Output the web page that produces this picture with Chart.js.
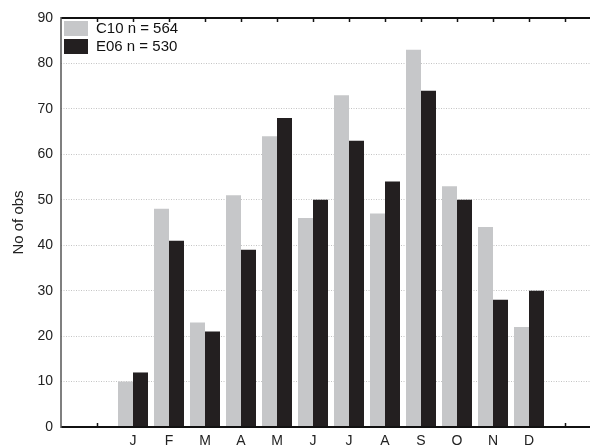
<!DOCTYPE html>
<html>
<head>
<meta charset="utf-8">
<script src="https://cdn.jsdelivr.net/npm/chart.js@4/dist/chart.umd.min.js"></script>
<style>
  html, body { margin: 0; padding: 0; background: #fff; overflow: hidden; }
  #wrap { width: 610px; height: 445px; }
</style>
</head>
<body>
<div id="wrap"><canvas id="c" width="610" height="445"></canvas></div>
<script>
const months = ["J", "F", "M", "A", "M", "J", "J", "A", "S", "O", "N", "D"];
const c10Values = [10, 48, 23, 51, 64, 46, 73, 47, 83, 53, 44, 22];
const e06Values = [12, 41, 21, 39, 68, 50, 63, 54, 74, 50, 28, 30];
const seriesNames = ["C10 n = 564", "E06 n = 530"];
const yTicks = [0, 10, 20, 30, 40, 50, 60, 70, 80, 90];
const yTitle = "No of obs";

// two empty slots on each side of the months
const pad = ["", ""];
const labels = pad.concat(months, pad);
const padData = arr => [null, null].concat(arr, [null, null]);

const FONT = "'Liberation Sans', Arial, Helvetica, sans-serif";
const GRAY = "#c6c7c9";
const DARK = "#231f20";

const frame = {
  id: "frame",
  beforeDatasetsDraw(chart) {
    const {ctx, chartArea: a, scales: {x}} = chart;
    ctx.save();
    ctx.strokeStyle = "#111";
    ctx.lineWidth = 1.5;
    for (let i = 1; i < labels.length; i++) {
      const px = Math.round(x.getPixelForTick(i)) + 0.5;
      ctx.beginPath();
      ctx.moveTo(px, a.top); ctx.lineTo(px, a.top + 4);
      ctx.moveTo(px, a.bottom); ctx.lineTo(px, a.bottom - 4);
      ctx.stroke();
    }
    ctx.restore();
  },
  afterDatasetsDraw(chart) {
    const {ctx, chartArea: a} = chart;
    ctx.save();
    // top border
    ctx.strokeStyle = "#111";
    ctx.lineWidth = 2;
    ctx.beginPath(); ctx.moveTo(a.left, a.top); ctx.lineTo(a.right + 20, a.top); ctx.stroke();
    // bottom axis
    ctx.beginPath(); ctx.moveTo(a.left, a.bottom); ctx.lineTo(a.right + 20, a.bottom); ctx.stroke();
    // left axis
    ctx.strokeStyle = "#555";
    ctx.lineWidth = 1.5;
    ctx.beginPath(); ctx.moveTo(a.left, a.top - 1); ctx.lineTo(a.left, a.bottom + 1); ctx.stroke();
    // legend
    const ds = chart.data.datasets;
    ctx.font = "15px " + FONT;
    ctx.textBaseline = "middle";
    ctx.textAlign = "left";
    ds.forEach((d, i) => {
      const bx = a.left + 3, by = a.top + 3 + i * 18;
      ctx.fillStyle = d.backgroundColor;
      ctx.fillRect(bx, by, 24, 15);
      ctx.fillStyle = "#111";
      ctx.fillText(d.label, bx + 32, by + 8);
    });
    ctx.restore();
  }
};

new Chart(document.getElementById("c"), {
  type: "bar",
  data: {
    labels: labels,
    datasets: [
      { label: seriesNames[0], data: padData(c10Values), backgroundColor: GRAY },
      { label: seriesNames[1], data: padData(e06Values), backgroundColor: DARK }
    ]
  },
  options: {
    responsive: false,
    animation: false,
    events: [],
    layout: { padding: { top: 18, right: 9, left: 0, bottom: 0 } },
    datasets: { bar: { categoryPercentage: 30 / 36, barPercentage: 1.0 } },
    plugins: { legend: { display: false }, tooltip: { enabled: false } },
    scales: {
      x: {
        offset: false,
        grid: { display: false, drawTicks: false },
        border: { display: false },
        ticks: { autoSkip: false, maxRotation: 0, padding: 6, color: "#222", font: { family: FONT, size: 14 } },
        afterFit(s) { s.height = 18; }
      },
      y: {
        min: 0, max: 90,
        afterBuildTicks(s) { s.ticks = yTicks.map(v => ({ value: v })); },
        grid: {
          drawTicks: false,
          color: ctx => (ctx.tick && (ctx.tick.value === 0 || ctx.tick.value === 90)) ? "rgba(0,0,0,0)" : "#c4c4c4",
          lineWidth: 1
        },
        border: { display: false, dash: [1, 1.5] },
        ticks: { padding: 8, color: "#222", font: { family: FONT, size: 14 } },
        title: { display: true, text: yTitle, color: "#222", font: { family: FONT, size: 15 }, padding: { top: 10, bottom: 0 } },
        afterFit(s) { s.width = 61; }
      }
    }
  },
  plugins: [frame]
});
</script>
</body>
</html>
